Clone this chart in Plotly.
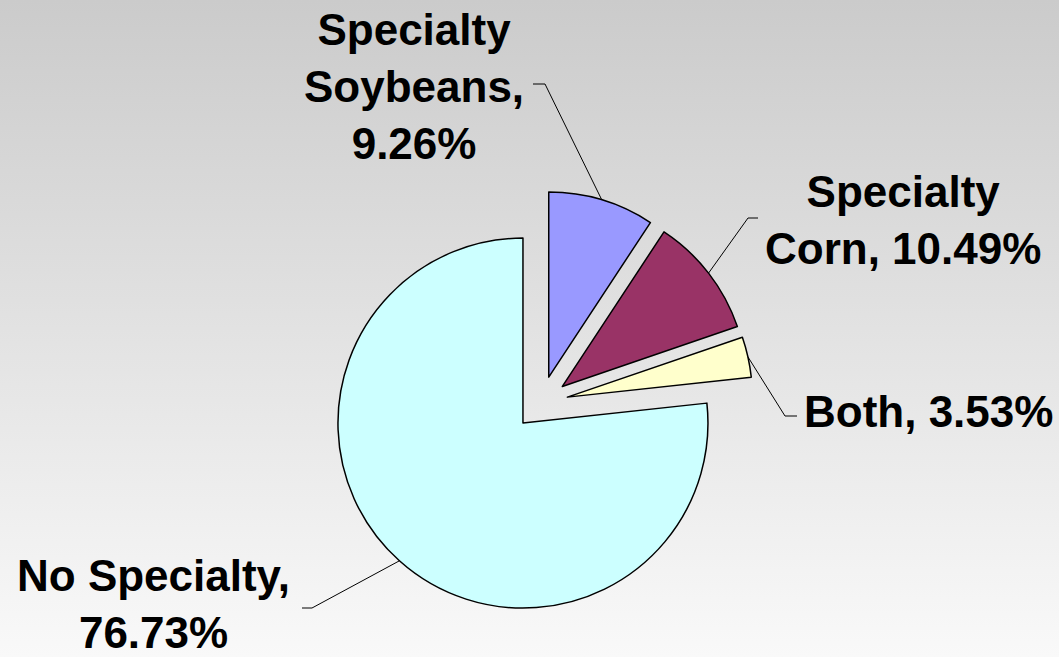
import math
import base64
import plotly.graph_objects as go

# ---- data ----
categories = ["Specialty Soybeans", "Specialty Corn", "Both", "No Specialty"]
shares = [9.26, 10.49, 3.53, 76.73]
label_texts = ["Specialty<br>Soybeans,<br>9.26%", "Specialty<br>Corn, 10.49%",
               "Both, 3.53%", "No Specialty,<br>76.73%"]
slice_colors = ["#9999FF", "#993366", "#FFFFCC", "#CCFFFF"]

# ---- layout constants (pixels) ----
W, H = 1059, 657
CX, CY = 541, 403        # pie centre
R = 185                  # pie radius
PULL = 0.146             # explode fraction of radius
HALF = R * (1 + PULL)

# label centres and leader elbows (pixels)
label_pos = [(414, 86), (903, 220), (928, 411), (153, 604)]
elbows = [((545, 84), (533, 84)), ((748, 218), (758, 218)),
          ((785, 416), (797, 416)), ((312, 608), (302, 608))]


def px(x):
    return x / W


def py(y):
    return 1 - y / H


fig = go.Figure(go.Pie(
    labels=categories, values=shares, sort=False, direction="clockwise",
    rotation=0, pull=[PULL] * len(shares), textinfo="none",
    marker=dict(colors=slice_colors, line=dict(color="black", width=1.5)),
    domain=dict(x=[px(CX - HALF), px(CX + HALF)], y=[py(CY + HALF), py(CY - HALF)]),
    showlegend=False, hoverinfo="label+percent",
))

# leader lines from slice-arc midpoints
total = sum(shares)
cum = 0.0
shapes = []
annotations = []
for i, v in enumerate(shares):
    mid = (cum + v / 2) / total * 2 * math.pi
    cum += v
    dist = R * PULL + R
    ax = CX + dist * math.sin(mid)
    ay = CY - dist * math.cos(mid)
    (ex, ey), (tx, ty) = elbows[i]
    path = f"M {px(ax)},{py(ay)} L {px(ex)},{py(ey)} L {px(tx)},{py(ty)}"
    shapes.append(dict(type="path", xref="paper", yref="paper", path=path,
                       line=dict(color="black", width=1)))
    lx, ly = label_pos[i]
    annotations.append(dict(x=px(lx), y=py(ly), xref="paper", yref="paper",
                            text=label_texts[i], showarrow=False,
                            xanchor="center", yanchor="middle", align="center",
                            font=dict(family="Liberation Sans, Arial", size=44,
                                      color="black", weight="bold")))

svg = ('<svg xmlns="http://www.w3.org/2000/svg" width="100" height="100" '
       'viewBox="0 0 100 100" preserveAspectRatio="none"><defs>'
       '<linearGradient id="g" x1="0" y1="0" x2="0" y2="1">'
       '<stop offset="0" stop-color="#cbcbcb"/><stop offset="1" stop-color="#f9f9f9"/>'
       '</linearGradient></defs><rect width="100" height="100" fill="url(#g)"/></svg>')
src = "data:image/svg+xml;base64," + base64.b64encode(svg.encode()).decode()

fig.update_layout(
    width=W, height=H, margin=dict(l=0, r=0, t=0, b=0),
    paper_bgcolor="#e2e2e2", plot_bgcolor="rgba(0,0,0,0)",
    shapes=shapes, annotations=annotations,
    images=[dict(source=src, xref="paper", yref="paper", x=0, y=1,
                 sizex=1, sizey=1, xanchor="left", yanchor="top",
                 sizing="stretch", layer="below")],
)

fig.write_html(
    "out.html",
    config={"displayModeBar": False},
    post_script="document.body.style.margin='0';document.body.style.overflow='hidden';",
)
